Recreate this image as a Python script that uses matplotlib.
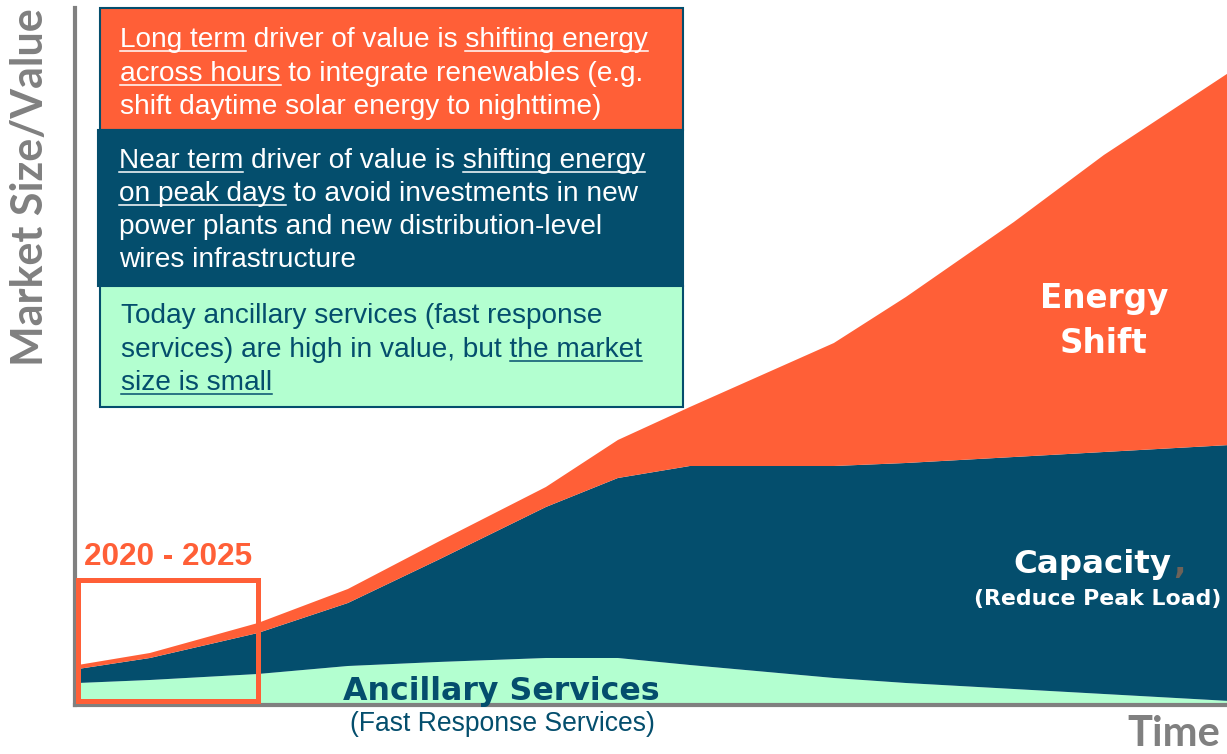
import matplotlib
matplotlib.use("Agg")
import numpy as np
import matplotlib.pyplot as plt
from matplotlib.patches import Rectangle
from matplotlib.lines import Line2D
from matplotlib.font_manager import FontProperties

# market size (arbitrary units) by year
years = [2020, 2022, 2025, 2027.5, 2030, 2033, 2035, 2037, 2041, 2043, 2046, 2048.5, 2052]
ancillary = [20, 23, 29, 37, 41, 45, 45, 38, 25, 20, 14, 9, 2]
capacity = [14, 22, 41, 63, 102, 151, 180, 199, 212, 220, 232, 242, 256]
energy_shift = [4, 5, 10, 14, 18, 20, 38, 59, 123, 166, 235, 297, 373]

period = (2020, 2025)

box1_lines = [
    [("Long term", True), (" driver of value is ", False), ("shifting energy", True)],
    [("across hours", True), (" to integrate renewables (e.g.", False)],
    [("shift daytime solar energy to nighttime)", False)],
]
box2_lines = [
    [("Near term", True), (" driver of value is ", False), ("shifting energy", True)],
    [("on peak days", True), (" to avoid investments in new", False)],
    [("power plants and new distribution-level", False)],
    [("wires infrastructure", False)],
]
box3_lines = [
    [("Today ancillary services (fast response", False)],
    [("services) are high in value, but ", False), ("the market", True)],
    [("size is small", True)],
]

ORANGE = "#FF5F37"
TEAL = "#044E6D"
GREEN = "#B3FFD0"
GRAY = "#808080"

W, H = 1227, 754
fig = plt.figure(figsize=(W / 100, H / 100), dpi=100)

def fx(px):
    return px / W

def fy(py):
    return 1 - py / H

ax = fig.add_axes([fx(75), fy(705), (1227 - 75) / W, (705 - 8) / H])
ax.stackplot(years, ancillary, capacity, energy_shift,
             colors=[GREEN, TEAL, ORANGE], linewidth=0)
ax.set_xlim(2019.92, 2051.92)
ax.set_ylim(-2, 695)
ax.set_xticks([])
ax.set_yticks([])
for s in ["top", "right"]:
    ax.spines[s].set_visible(False)
for s in ["left", "bottom"]:
    ax.spines[s].set_color(GRAY)
    ax.spines[s].set_linewidth(3)

# highlighted period
ax.add_patch(Rectangle((period[0], 2.5), period[1] - period[0], 121,
                       fill=False, edgecolor=ORANGE, linewidth=3.6, clip_on=False, zorder=5))
ax.text(np.mean(period), 138, "2020 - 2025", ha="center", va="baseline",
        fontsize=22.7, fontweight="bold", color=ORANGE, family="Liberation Sans")

# axis titles
fig.text(fx(30), fy(187), "Market Size/Value", rotation=90, ha="center", va="center",
         fontsize=31, fontweight="bold", color=GRAY, family="Lato")
fig.text(fx(1220), fy(746), "Time", ha="right", va="baseline",
         fontsize=30, fontweight="bold", color=GRAY, family="Lato")

# area labels
bold = dict(family="DejaVu Sans", fontweight="bold", ha="center", va="baseline")
fig.text(fx(501), fy(700), "Ancillary Services", fontsize=22.8, color=TEAL, **bold)
fig.text(fx(502), fy(731), "(Fast Response Services)", fontsize=19.1, color=TEAL,
         family="Liberation Sans", ha="center", va="baseline")
fig.text(fx(1104), fy(308), "Energy", fontsize=23.5, color="white", **bold)
fig.text(fx(1104), fy(353), "Shift", fontsize=23.5, color="white", **bold)
fig.text(fx(1092), fy(573), "Capacity", fontsize=23.4, color="white", **bold)
fig.text(fx(1173), fy(573), ",", fontsize=23.4, color="#6E6258", family="DejaVu Sans",
         fontweight="bold", ha="left", va="baseline")
fig.text(fx(1098), fy(605), "(Reduce Peak Load)", fontsize=15.8, color="white", **bold)

# explanation boxes
def box(x0, y0, x1, y1, face, edge):
    fig.add_artist(Rectangle((fx(x0), fy(y1)), (x1 - x0) / W, (y1 - y0) / H,
                             transform=fig.transFigure, facecolor=face,
                             edgecolor=edge, linewidth=1.5))

box(100, 8, 683, 130, ORANGE, TEAL)
box(98, 130, 683, 286, TEAL, TEAL)
box(100, 286, 683, 407, GREEN, TEAL)

renderer = fig.canvas.get_renderer()
prop = FontProperties(family="Liberation Sans", size=20.2)

def width(s):
    return renderer.get_text_width_height_descent(s, prop, ismath=False)[0]

def write_lines(x, baselines, lines, color):
    for yb, parts in zip(baselines, lines):
        full = "".join(p for p, _ in parts)
        fig.text(fx(x), fy(yb), full, fontproperties=prop, color=color,
                 ha="left", va="baseline")
        pre = ""
        for seg, under in parts:
            if under:
                a = width(pre + "|") - width("|") if pre else 0
                b = width(pre + seg)
                fig.add_artist(Line2D([fx(x + a), fx(x + b)], [fy(yb + 3.5)] * 2,
                                      transform=fig.transFigure, color=color, linewidth=1.1))
            pre += seg

write_lines(120, [47, 81, 114], box1_lines, "white")
write_lines(119, [168, 201, 234, 267], box2_lines, "white")
write_lines(121, [323, 357, 390], box3_lines, TEAL)

fig.savefig("out.png", dpi=100)
